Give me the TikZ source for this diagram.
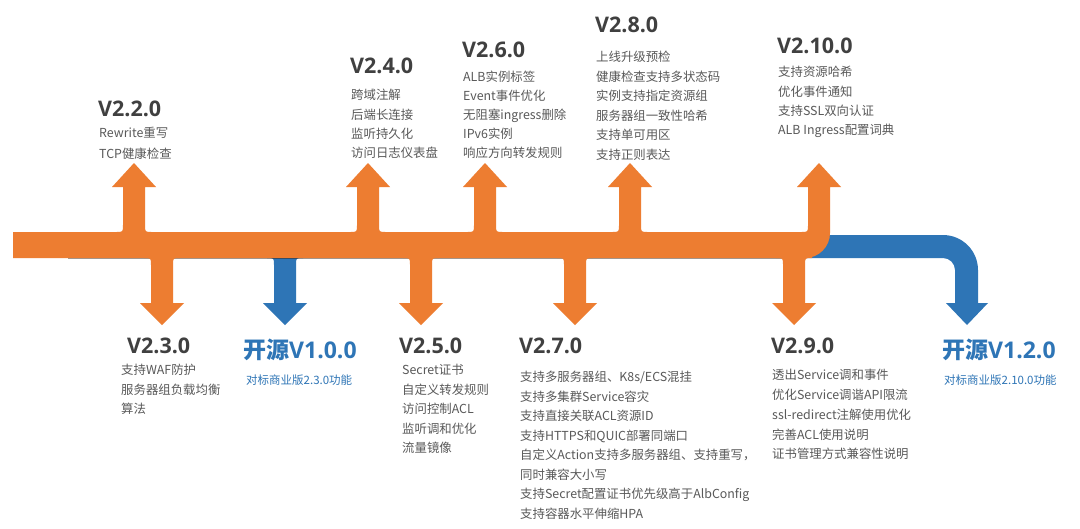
\documentclass[tikz,border=0pt]{standalone}
\usepackage{fontspec}
\setmainfont{Noto Sans CJK SC}
\newfontfamily\headfont{Open Sans}
\definecolor{aorange}{HTML}{ED7D31}
\definecolor{ablue}{HTML}{2E75B6}
\definecolor{headgray}{HTML}{404040}
\definecolor{bodygray}{HTML}{595959}
\definecolor{shade}{HTML}{8A4A1E}
\begin{document}
\begin{tikzpicture}[x=1pt,y=-1pt,
  head/.style={font=\headfont\bfseries\fontsize{21.5}{21.5}\selectfont, text=headgray, anchor=base west, inner sep=0pt},
  body/.style={font=\fontsize{12.4}{12.4}\selectfont, text=bodygray, anchor=base west, inner sep=0pt},
  ohead/.style={font=\bfseries\fontsize{23}{23}\selectfont, text=ablue, anchor=base west, inner sep=0pt},
  sub/.style={font=\fontsize{11.5}{11.5}\selectfont, text=ablue, anchor=base west, inner sep=0pt}]
\useasboundingbox (0,0) rectangle (1080,528);
\fill[white] (0,0) rectangle (1080,528);

% blue band and blue arrows
\fill[ablue] (790,235) -- (943,235) .. controls (962.3,235) and (978,250.7) .. (978,270)
  -- (978,303) -- (988,303) -- (967,325) -- (946,303) -- (955,303) -- (955,270)
  .. controls (955,263.4) and (949.6,258) .. (943,258) -- (790,258) -- cycle;
\foreach \c in {285} {
  \fill[ablue] ({\c-18},250) -- ({\c-18},258) .. controls ({\c-11},258) .. ({\c-11},265) -- ({\c-11},303)
    -- ({\c-22},303) -- (\c,325) -- ({\c+22},303) -- ({\c+11},303) -- ({\c+11},265)
    .. controls ({\c+11},258) .. ({\c+18},258) -- ({\c+18},250) -- cycle;
}
\draw[shade, opacity=0.4, line width=1pt] (68,258.2) -- (800,258.2);
% orange down arrows
\foreach \c in {162,421,575,794} {
  \fill[aorange] ({\c-18},250) -- ({\c-18},258) .. controls ({\c-11},258) .. ({\c-11},265) -- ({\c-11},303)
    -- ({\c-22},303) -- (\c,325) -- ({\c+22},303) -- ({\c+11},303) -- ({\c+11},265)
    .. controls ({\c+11},258) .. ({\c+18},258) -- ({\c+18},250) -- cycle;
}
% orange band with last up arrow
\fill[aorange] (13,232) -- (801,232) .. controls (808,232) .. (808,225) -- (808,187) -- (797,187)
  -- (819,163) -- (841,187) -- (830,187) -- (830,233)
  .. controls (830,246.8) and (818.8,258) .. (805,258) -- (13,258) -- cycle;
% orange up arrows
\foreach \c in {134,368,485,630} {
  \fill[aorange] ({\c-18},240) -- ({\c-18},232) .. controls ({\c-11},232) .. ({\c-11},225) -- ({\c-11},187)
    -- ({\c-22},187) -- (\c,163) -- ({\c+22},187) -- ({\c+11},187) -- ({\c+11},225)
    .. controls ({\c+11},232) .. ({\c+18},232) -- ({\c+18},240) -- cycle;
}

% ---- top texts
\node[head] (h22) at (98,116) {V2.2.0};
\foreach \t [count=\i] in {Rewrite重写,TCP健康检查}
  \node[body] (v22-\i) at (99,{133+4.7+(\i-1)*21}) {\t};

\node[head] (h24) at (350,73) {V2.4.0};
\foreach \t [count=\i] in {跨域注解,后端长连接,监听持久化,访问日志仪表盘}
  \node[body] (v24-\i) at (351,{95+4.7+(\i-1)*19.3}) {\t};

\node[head] (h26) at (462,57) {V2.6.0};
\foreach \t [count=\i] in {ALB实例标签,Event事件优化,无阻塞ingress删除,IPv6实例,响应方向转发规则}
  \node[body] (v26-\i) at (463,{77+4.7+(\i-1)*19}) {\t};

\node[head] (h28) at (595,32) {V2.8.0};
\foreach \t [count=\i] in {上线升级预检,健康检查支持多状态码,实例支持指定资源组,服务器组一致性哈希,支持单可用区,支持正则表达}
  \node[body] (v28-\i) at (596,{57+4.7+(\i-1)*19.5}) {\t};

\node[head] (h210) at (777,53) {V2.10.0};
\foreach \t [count=\i] in {支持资源哈希,优化事件通知,支持SSL双向认证,ALB Ingress配置词典}
  \node[body] (v210-\i) at (778,{72+4.7+(\i-1)*19.3}) {\t};

% ---- bottom texts
\node[head] (h23) at (127,353) {V2.3.0};
\foreach \t [count=\i] in {支持WAF防护,服务器组负载均衡,算法}
  \node[body] (v23-\i) at (121,{370+4.7+(\i-1)*19.3}) {\t};

\node[ohead] (o10) at (243,358) {开源{\headfont V1.0.0}};
\node[sub] (s10) at (246,384.3) {对标商业版2.3.0功能};

\node[head] (h25) at (399,353) {V2.5.0};
\foreach \t [count=\i] in {Secret证书,自定义转发规则,访问控制ACL,监听调和优化,流量镜像}
  \node[body] (v25-\i) at (402,{370+4.7+(\i-1)*19.5}) {\t};

\node[head] (h27) at (519,353) {V2.7.0};
\foreach \t [count=\i] in {支持多服务器组、K8s/ECS混挂,支持多集群Service容灾,支持直接关联ACL资源ID,支持HTTPS和QUIC部署同端口,自定义Action支持多服务器组、支持重写，,同时兼容大小写,支持Secret配置证书优先级高于AlbConfig,支持容器水平伸缩HPA}
  \node[body] (v27-\i) at (520,{377+4.7+(\i-1)*19.5}) {\t};

\node[head] (h29) at (771,353) {V2.9.0};
\foreach \t [count=\i] in {透出Service调和事件,优化Service调谐API限流,ssl-redirect注解使用优化,完善ACL使用说明,证书管理方式兼容性说明}
  \node[body] (v29-\i) at (772,{375+4.7+(\i-1)*19.8}) {\t};

\node[ohead] (o12) at (942,358) {开源{\headfont V1.2.0}};
\node[sub] (s12) at (944,384.7) {对标商业版2.10.0功能};
\end{tikzpicture}
\end{document}
